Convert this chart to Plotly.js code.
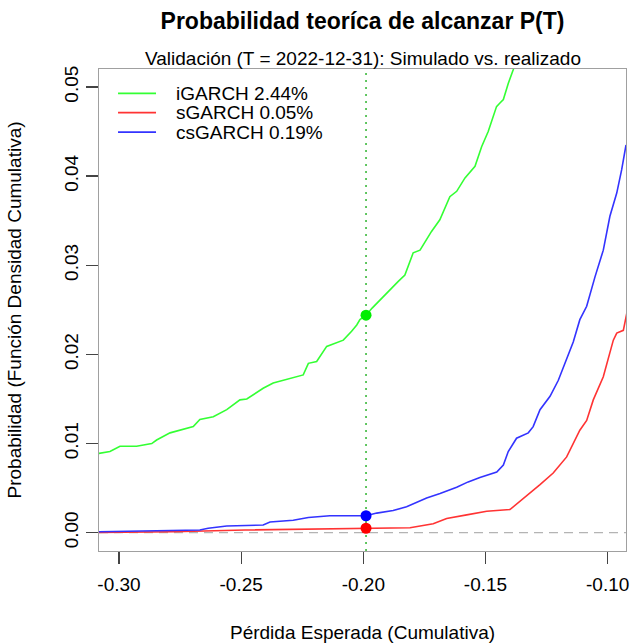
<!DOCTYPE html>
<html>
<head>
<meta charset="utf-8">
<script src="https://cdn.plot.ly/plotly-3.0.1.min.js"></script>
<style>html,body{margin:0;padding:0;background:#fff;}#chart{width:631px;height:643px;}</style>
</head>
<body>
<div id="chart"></div>
<script>
// ---- data ----
const models = ['iGARCH', 'sGARCH', 'csGARCH'];
const probAtT = [0.0244, 0.0005, 0.0019];
const lossAtT = -0.1989;

const iGARCH_loss = [-0.3082, -0.3037, -0.2996, -0.2928, -0.2866, -0.2846, -0.2791, -0.2750, -0.2696, -0.2669, -0.2614, -0.2559, -0.2505, -0.2477, -0.2410, -0.2369, -0.2300, -0.2246, -0.2225, -0.2191, -0.2150, -0.2082, -0.2048, -0.2027, -0.2014, -0.1989, -0.1964, -0.1919, -0.1857, -0.1830, -0.1796, -0.1768, -0.1721, -0.1687, -0.1646, -0.1618, -0.1584, -0.1543, -0.1516, -0.1489, -0.1455, -0.1441, -0.1427, -0.1407, -0.1387, -0.1370];
const iGARCH_prob = [0.0089, 0.0091, 0.0097, 0.0097, 0.0100, 0.0104, 0.0112, 0.0115, 0.0119, 0.0127, 0.0130, 0.0138, 0.0149, 0.0150, 0.0162, 0.0168, 0.0173, 0.0177, 0.0190, 0.0192, 0.0209, 0.0216, 0.0226, 0.0233, 0.0239, 0.0244, 0.0252, 0.0265, 0.0282, 0.0289, 0.0314, 0.0317, 0.0338, 0.0351, 0.0377, 0.0383, 0.0398, 0.0411, 0.0433, 0.0450, 0.0478, 0.0482, 0.0486, 0.0504, 0.0519, 0.0535];

const sGARCH_loss = [-0.3082, -0.2778, -0.2484, -0.2109, -0.1989, -0.1809, -0.1714, -0.1659, -0.1577, -0.1495, -0.1400, -0.1359, -0.1318, -0.1277, -0.1223, -0.1168, -0.1114, -0.1086, -0.1059, -0.1018, -0.0977, -0.0963, -0.0936, -0.0922];
const sGARCH_prob = [0.00004, 0.0001, 0.0003, 0.00048, 0.0005, 0.00056, 0.0010, 0.0016, 0.0020, 0.0024, 0.0026, 0.0035, 0.0044, 0.0054, 0.0067, 0.0085, 0.0115, 0.0126, 0.0149, 0.0175, 0.0216, 0.0224, 0.0227, 0.0246];

const csGARCH_loss = [-0.3082, -0.2791, -0.2669, -0.2635, -0.2559, -0.2410, -0.2382, -0.2287, -0.2225, -0.2137, -0.1989, -0.1945, -0.1878, -0.1823, -0.1741, -0.1686, -0.1618, -0.1571, -0.1523, -0.1454, -0.1427, -0.1407, -0.1373, -0.1325, -0.1305, -0.1277, -0.1236, -0.1202, -0.1168, -0.1141, -0.1114, -0.1086, -0.1052, -0.1018, -0.0991, -0.0963, -0.0943, -0.0925];
const csGARCH_prob = [0.0001, 0.0003, 0.0003, 0.00049, 0.00075, 0.00086, 0.0012, 0.0014, 0.0017, 0.0019, 0.0019, 0.0022, 0.0025, 0.0029, 0.0039, 0.0044, 0.0051, 0.0057, 0.0062, 0.0068, 0.0076, 0.0091, 0.0106, 0.0112, 0.0119, 0.0138, 0.0153, 0.0171, 0.0194, 0.0214, 0.0239, 0.0254, 0.0287, 0.0317, 0.0355, 0.0381, 0.0407, 0.0435];

const xTickVals = [-0.30, -0.25, -0.20, -0.15, -0.10];
const xTickText = ['-0.30', '-0.25', '-0.20', '-0.15', '-0.10'];
const yTickVals = [0, 0.01, 0.02, 0.03, 0.04, 0.05];
const yTickText = ['0.00', '0.01', '0.02', '0.03', '0.04', '0.05'];

const titleText = 'Probabilidad teoríca de alcanzar P(T)';
const subtitleText = 'Validación (T = 2022-12-31): Simulado vs. realizado';
const xTitle = 'Pérdida Esperada (Cumulativa)';
const yTitle = 'Probabilidad (Función Densidad Cumulativa)';

// ---- styles ----
const colors = ['#33ff33', '#ff3333', '#3333ff'];
const dotColors = ['#00ee00', '#ff0000', '#0000ff'];
const FONT = 'Liberation Sans, Arial, Helvetica, sans-serif';

const curveX = [iGARCH_loss, sGARCH_loss, csGARCH_loss];
const curveY = [iGARCH_prob, sGARCH_prob, csGARCH_prob];

const traces = [];
models.forEach((m, i) => {
  traces.push({
    x: curveX[i], y: curveY[i], type: 'scatter', mode: 'lines',
    name: m + ' ' + (probAtT[i] * 100).toFixed(2) + '%',
    line: {color: colors[i], width: 1.6}, showlegend: false, hoverinfo: 'skip'
  });
});
traces.push({
  x: models.map(() => lossAtT), y: probAtT, type: 'scatter', mode: 'markers',
  marker: {color: dotColors, size: 11}, showlegend: false, hoverinfo: 'skip'
});

// manual R-style legend (no box)
const legendRowsY = [0.9495, 0.9095, 0.8690];
const shapes = [
  {type: 'line', xref: 'paper', yref: 'y', x0: 0, x1: 1, y0: 0, y1: 0,
   line: {color: '#b4b4b4', width: 1.3, dash: '9px,6px'}, layer: 'below'},
  {type: 'line', xref: 'x', yref: 'paper', x0: lossAtT, x1: lossAtT, y0: 0, y1: 1,
   line: {color: 'rgb(60,185,60)', width: 1.6, dash: '2px,5px'}, layer: 'below'}
];
const annotations = [
  {text: subtitleText, xref: 'paper', yref: 'paper', x: 0.5, y: 1.0215, xanchor: 'center', yanchor: 'middle',
   showarrow: false, font: {family: FONT, size: 19, color: '#000'}}
];
models.forEach((m, i) => {
  shapes.push({type: 'line', xref: 'paper', yref: 'paper', x0: 0.0361, x1: 0.1082,
    y0: legendRowsY[i], y1: legendRowsY[i], line: {color: colors[i], width: 1.6}});
  annotations.push({text: m + ' ' + (probAtT[i] * 100).toFixed(2) + '%', xref: 'paper', yref: 'paper',
    x: 0.1423, y: legendRowsY[i], xanchor: 'left', yanchor: 'middle', showarrow: false,
    font: {family: FONT, size: 19, color: '#000'}});
});

const layout = {
  width: 631, height: 643,
  margin: {l: 99, r: 5, t: 69, b: 92},
  paper_bgcolor: '#fff', plot_bgcolor: '#fff',
  font: {family: FONT, size: 19, color: '#000'},
  showlegend: false,
  title: {text: '<b>' + titleText + '</b>', x: 0.5, xref: 'paper', y: 0.967, yref: 'container',
    xanchor: 'center', yanchor: 'middle', font: {family: FONT, size: 23, color: '#000'}},
  xaxis: {
    range: [-0.30818, -0.09251], tickvals: xTickVals, ticktext: xTickText,
    showgrid: false, zeroline: false, showline: true, mirror: true, linecolor: '#a0a0a0', linewidth: 1.3,
    ticks: 'outside', ticklen: 12, tickwidth: 1.3, tickcolor: '#444', ticklabelstandoff: 4,
    tickfont: {family: FONT, size: 19, color: '#000'},
    title: {text: xTitle, font: {family: FONT, size: 19, color: '#000'}, standoff: 34},
    automargin: false
  },
  yaxis: {
    range: [-0.002053, 0.05202], tickvals: yTickVals, ticktext: yTickText, tickangle: -90,
    showgrid: false, zeroline: false, showline: true, mirror: true, linecolor: '#a0a0a0', linewidth: 1.3,
    ticks: 'outside', ticklen: 12, tickwidth: 1.3, tickcolor: '#444',
    tickfont: {family: FONT, size: 19, color: '#000'},
    title: {text: yTitle, font: {family: FONT, size: 19, color: '#000'}, standoff: 34},
    automargin: false
  },
  shapes: shapes,
  annotations: annotations
};

Plotly.newPlot('chart', traces, layout, {displayModeBar: false, staticPlot: true});
</script>
</body>
</html>
